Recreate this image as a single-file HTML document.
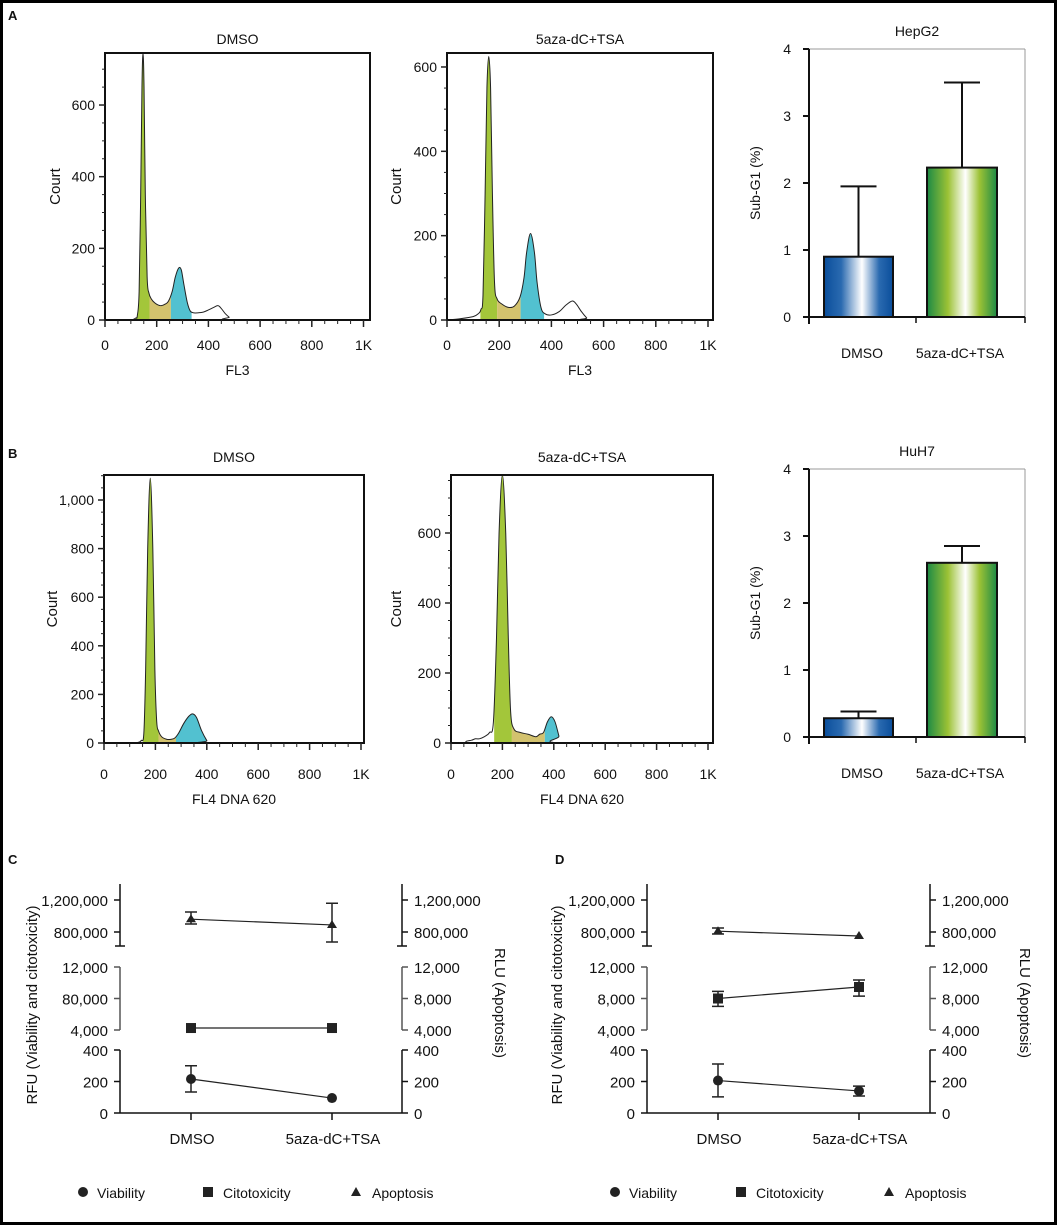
<!DOCTYPE html>
<html><head><meta charset="utf-8"><style>
html,body{margin:0;padding:0;background:#fff}
svg{display:block}
text{font-family:"Liberation Sans",Arial,sans-serif;fill:#111}
</style></head><body>
<svg id="fig" width="1057" height="1225" viewBox="0 0 1057 1225" xmlns="http://www.w3.org/2000/svg">
<defs>
<linearGradient id="gBlue" x1="0" x2="1" y1="0" y2="0">
<stop offset="0" stop-color="#0a4e9b"/><stop offset="0.25" stop-color="#2a6ab0"/><stop offset="0.55" stop-color="#ffffff"/><stop offset="0.8" stop-color="#2a6ab0"/><stop offset="1" stop-color="#0a4e9b"/></linearGradient>
<linearGradient id="gGreen" x1="0" x2="1" y1="0" y2="0">
<stop offset="0" stop-color="#1c8a45"/><stop offset="0.3" stop-color="#9cc235"/><stop offset="0.55" stop-color="#ffffff"/><stop offset="0.75" stop-color="#9cc235"/><stop offset="1" stop-color="#1c8a45"/></linearGradient>
</defs>
<rect x="1.5" y="1.5" width="1054" height="1222" fill="none" stroke="#000" stroke-width="3"/>
<text x="8" y="20" font-size="13" font-weight="bold">A</text>
<text x="8" y="458" font-size="13" font-weight="bold">B</text>
<text x="8" y="864" font-size="13" font-weight="bold">C</text>
<text x="555" y="864" font-size="13" font-weight="bold">D</text>
</svg>
<script>
// ---------- histogram data (FL value, count) ----------
const a1X=[0,100,110,120,125,132,138,143,147,151,156,163,170,180,192,205,218,232,245,260,272,285,295,305,318,330,345,360,380,400,420,437,450,465,480,495,1000];
const a1Y=[0,0,2,6,12,80,350,650,745,650,350,120,75,58,48,42,40,44,52,80,120,145,140,100,50,25,20,20,22,28,35,40,32,18,8,0,0];
const a2X=[0,50,100,120,130,138,146,153,160,167,174,182,192,210,235,258,280,295,305,320,335,345,360,375,400,430,455,480,495,515,535,545,1000];
const a2Y=[0,3,8,15,25,60,300,550,625,550,300,90,50,38,30,33,55,100,160,205,160,90,30,15,12,20,35,45,38,20,5,0,0];
const b1X=[0,100,130,145,155,162,170,180,190,198,205,212,225,245,260,275,290,310,330,345,360,380,400,410,1000];
const b1Y=[0,0,2,10,40,300,800,1090,800,300,90,50,25,15,15,20,40,80,110,120,105,50,10,0,0];
const b2X=[0,50,60,80,95,110,130,150,165,177,187,200,213,223,232,245,270,300,330,345,360,375,390,405,420,430,1000];
const b2Y=[0,0,5,8,12,12,18,30,60,300,600,775,600,300,90,40,30,25,18,25,30,60,75,60,20,0,0];
// phase gates [G1, S, G2]
const a1Gates=[[120,172],[172,255],[255,335]];
const a2Gates=[[128,192],[192,282],[282,372]];
const b1Gates=[[152,212],[212,280],[280,410]];
const b2Gates=[[168,237],[237,365],[365,432]];
// ---------- sub-G1 bar data ----------
const barCats=["DMSO","5aza-dC+TSA"];
const hepVals=[0.9,2.23];
const hepErr=[1.95,3.5];
const huhVals=[0.28,2.6];
const huhErr=[0.38,2.85];
const barTicks=[0,1,2,3,4];
// ---------- viability assay data ----------
const assayCats=["DMSO","5aza-dC+TSA"];
const cApopt=[960000,888000], cApoptLo=[900000,675000], cApoptHi=[1050000,1160000];
const cCito=[4250,4250], cCitoLo=[4250,4250], cCitoHi=[4250,4250];
const cViab=[216,95], cViabLo=[133,95], cViabHi=[300,95];
const dApopt=[810000,750000], dApoptLo=[775000,750000], dApoptHi=[850000,750000];
const dCito=[8000,9460], dCitoLo=[7000,8300], dCitoHi=[8900,10350];
const dViab=[206,140], dViabLo=[102,108], dViabHi=[311,171];
const topTicks=[800000,1200000], topLabels=["800,000","1,200,000"];
const midTicks=[4000,8000,12000];
const bottomTicks=[0,200,400];

const NS="http://www.w3.org/2000/svg";
const svg=document.getElementById('fig');
function mk(tag,attrs,parent){const e=document.createElementNS(NS,tag);for(const k in attrs)e.setAttribute(k,attrs[k]);(parent||svg).appendChild(e);return e;}
function txt(x,y,s,size,anchor,parent,rot){const t=mk('text',{x:x,y:y,'font-size':size,'text-anchor':anchor||'middle'},parent);if(rot)t.setAttribute('transform','rotate('+rot+' '+x+' '+y+')');t.textContent=s;return t;}
function smooth(pts){let d='M'+pts[0][0]+','+pts[0][1];for(let i=0;i<pts.length-1;i++){const p0=pts[Math.max(0,i-1)],p1=pts[i],p2=pts[i+1],p3=pts[Math.min(pts.length-1,i+2)];const c1x=p1[0]+(p2[0]-p0[0])/6,c1y=p1[1]+(p2[1]-p0[1])/6,c2x=p2[0]-(p3[0]-p1[0])/6,c2y=p2[1]-(p3[1]-p1[1])/6;d+=' C'+c1x+','+c1y+' '+c2x+','+c2y+' '+p2[0]+','+p2[1];}return d;}
let clipId=0;
function hist(o){
  const g=mk('g',{});
  
  
  const [L,T,R,B]=o.box;
  const X=v=>o.x0+v*o.xs, Y=v=>B-v*o.ys;
  const pts=o.xd.map((v,i)=>[X(v),Math.max(T,Y(o.yd[i]))]);
  const curve=smooth(pts);
  const cid='bx'+(clipId++);
  const cp=mk('clipPath',{id:cid},g);mk('rect',{x:L,y:T,width:R-L,height:B-T},cp);
  const cols=['#a3c63a','#d3c26e','#52c1d0'];
  const gn=['g1-fill','s-phase-fill','g2-fill'];
  o.gates.forEach((gt,i)=>{
    const id='gc'+(clipId++);
    const c=mk('clipPath',{id:id},g);mk('rect',{x:X(gt[0]),y:T,width:X(gt[1])-X(gt[0]),height:B-T},c);
    const gg=mk('g',{'clip-path':'url(#'+id+')'},g);
    const f=mk('path',{d:curve+' L'+pts[pts.length-1][0]+','+B+' L'+pts[0][0]+','+B+'Z',fill:cols[i]},gg);
    
    
  });
  const ln=mk('path',{d:curve,fill:'none',stroke:'#222','stroke-width':1,'clip-path':'url(#'+cid+')'},g);
  
  
  const bx=mk('rect',{x:L,y:T,width:R-L,height:B-T,fill:'none',stroke:'#111','stroke-width':2},g);
  
  
  for(let v=0;Y(v)>=T;v+=50){const maj=v%200===0;mk('line',{x1:L-(maj?6:3),x2:L,y1:Y(v),y2:Y(v),stroke:'#222','stroke-width':maj?1.5:1},g);
    if(maj){const t=txt(L-10,Y(v)+5,v>=1000?(v/1000)+','+String(v%1000).padStart(3,'0'):String(v),14,'end',g);}}
  for(let v=0;v<=1000;v+=50){const maj=v%200===0||v===1000;mk('line',{x1:X(v),x2:X(v),y1:B,y2:B+(maj?7:4),stroke:'#222','stroke-width':maj?1.5:1},g);
    if(maj){const t=txt(X(v),o.tickY,v===1000?'1K':String(v),14,'middle',g);}}
  const tt=txt((L+R)/2,o.titleY,o.title,14,'middle',g);
  const xl=txt((L+R)/2,o.xlabY,o.xlab,14,'middle',g);
  const yl=txt(o.ylabX,(T+B)/2,'Court',15,'middle',g,-90);
}
hist({name:'hist-a-dmso',box:[105,53,370,320],x0:105,xs:0.2585,ys:0.3583,xd:a1X,yd:a1Y,gates:a1Gates,title:'DMSO',titleY:44,xlab:'FL3',xlabY:375,tickY:350,ylabX:60});
hist({name:'hist-a-5aza',box:[447,53,713,320],x0:447,xs:0.261,ys:0.4217,xd:a2X,yd:a2Y,gates:a2Gates,title:'5aza-dC+TSA',titleY:44,xlab:'FL3',xlabY:375,tickY:350,ylabX:401});
hist({name:'hist-b-dmso',box:[104,475,364,743],x0:104,xs:0.257,ys:0.243,xd:b1X,yd:b1Y,gates:b1Gates,title:'DMSO',titleY:462,xlab:'FL4 DNA 620',xlabY:804,tickY:779,ylabX:57});
hist({name:'hist-b-5aza',box:[451,475,713,743],x0:451,xs:0.257,ys:0.35,xd:b2X,yd:b2Y,gates:b2Gates,title:'5aza-dC+TSA',titleY:462,xlab:'FL4 DNA 620',xlabY:804,tickY:779,ylabX:401});

function bars(o){
  const g=mk('g',{});
  
  
  const L=809,R=1025,T=o.base-268,B=o.base;
  const Y=v=>B-v*67;
  mk('line',{x1:L,y1:T,x2:R,y2:T,stroke:'#999','stroke-width':1},g);
  mk('line',{x1:R,y1:T,x2:R,y2:B,stroke:'#999','stroke-width':1},g);
  const bx=[[824,893],[927,997]], grads=['url(#gBlue)','url(#gGreen)'];
  o.vals.forEach((v,i)=>{
    const cx=(bx[i][0]+bx[i][1])/2;
    const e=mk('path',{d:'M'+cx+','+Y(v)+' V'+Y(o.err[i])+' M'+(cx-18)+','+Y(o.err[i])+' H'+(cx+18),stroke:'#111','stroke-width':2,fill:'none'},g);
    
    
    const r=mk('rect',{x:bx[i][0],y:Y(v),width:bx[i][1]-bx[i][0],height:B-Y(v),fill:grads[i],stroke:'#111','stroke-width':2},g);
    
    
    const t=txt((i===0?862:960),o.labY,barCats[i],14,'middle',g);
    
    
  });
  mk('line',{x1:L,y1:T,x2:L,y2:B+7,stroke:'#111','stroke-width':2},g);
  mk('line',{x1:L-6,y1:B,x2:R,y2:B,stroke:'#111','stroke-width':2},g);
  [916,1025].forEach(x=>mk('line',{x1:x,y1:B,x2:x,y2:B+6,stroke:'#111','stroke-width':1.5},g));
  barTicks.forEach(v=>{mk('line',{x1:L-6,x2:L,y1:Y(v),y2:Y(v),stroke:'#111','stroke-width':2},g);
    const t=txt(L-18,Y(v)+5,String(v),14,'end',g);});
  const tt=txt(917,T-13,o.title,14,'middle',g);
  const yl=txt(760,(T+B)/2,'Sub-G1 (%)',14,'middle',g,-90);
}
bars({name:'bar-hepg2',base:317,vals:hepVals,err:hepErr,title:'HepG2',labY:358});
bars({name:'bar-huh7',base:737,vals:huhVals,err:huhErr,title:'HuH7',labY:778});

function assay(o){
  const g=mk('g',{});
  
  
  const L=o.L,R=o.R;
  const yTop=v=>900+(1200000-v)/400000*32;
  const yMid=v=>967+(12000-v)/8000*63;
  const yBot=v=>1113-v/400*63;
  const cx=[L+71,L+212];
  const segs=[[884,946],[967,1030],[1050,1113]];
  [L,R].forEach((ax,k)=>{
    const dir=k===0?-1:1;
    segs.forEach((s,j)=>{mk('line',{x1:ax,x2:ax,y1:s[0],y2:s[1],stroke:j===1?'#555':'#111','stroke-width':1.5},g);});
    mk('line',{x1:ax-5,x2:ax+5,y1:946,y2:946,stroke:'#111','stroke-width':1.5},g);
    topTicks.forEach((v,i)=>{mk('line',{x1:ax,x2:ax+dir*6,y1:yTop(v),y2:yTop(v),stroke:'#111','stroke-width':1.5},g);
      const t=txt(ax+dir*12,yTop(v)+6,topLabels[i],15,k===0?'end':'start',g);});
    midTicks.forEach(v=>{mk('line',{x1:ax,x2:ax+dir*6,y1:yMid(v),y2:yMid(v),stroke:'#555','stroke-width':1.5},g);
      let s=v.toLocaleString('en-US');if(k===0&&v===8000&&o.odd)s='80,000';
      const t=txt(ax+dir*12,yMid(v)+6,s,15,k===0?'end':'start',g);});
    bottomTicks.forEach(v=>{mk('line',{x1:ax,x2:ax+dir*6,y1:yBot(v),y2:yBot(v),stroke:'#111','stroke-width':1.5},g);
      const t=txt(ax+dir*12,yBot(v)+6,String(v),15,k===0?'end':'start',g);});
  });
  mk('line',{x1:L,x2:R,y1:1113,y2:1113,stroke:'#111','stroke-width':1.5},g);
  cx.forEach((x,i)=>{mk('line',{x1:x,x2:x,y1:1113,y2:1120,stroke:'#111','stroke-width':1.5},g);
    const t=txt(x+1,1144,assayCats[i],15,'middle',g);});
  const series=[[o.apo,o.apoLo,o.apoHi,yTop,'tri','apoptosis'],[o.cit,o.citLo,o.citHi,yMid,'sq','citotoxicity'],[o.via,o.viaLo,o.viaHi,yBot,'dot','viability']];
  series.forEach(([v,lo,hi,Y,sh,nm])=>{
    const ln=mk('line',{x1:cx[0],y1:Y(v[0]),x2:cx[1],y2:Y(v[1]),stroke:'#222','stroke-width':1.2},g);
    
    
    v.forEach((val,i)=>{
      if(hi[i]!==lo[i]){const e=mk('path',{d:'M'+cx[i]+','+Y(hi[i])+' V'+Y(lo[i])+' M'+(cx[i]-6)+','+Y(hi[i])+' h12 M'+(cx[i]-6)+','+Y(lo[i])+' h12',stroke:'#222','stroke-width':1.5,fill:'none'},g);
        
        }
      const y=Y(val);let m;
      if(sh==='tri')m=mk('path',{d:'M'+cx[i]+','+(y-5)+' l5,8 h-10z',fill:'#222'},g);
      else if(sh==='sq')m=mk('rect',{x:cx[i]-5,y:y-5,width:10,height:10,fill:'#222'},g);
      else m=mk('circle',{cx:cx[i],cy:y,r:5,fill:'#222'},g);
      
      
    });
  });
  const yl=txt(o.ylX,1005,'RFU (Viability and citotoxicity)',15,'middle',g,-90);
  const yr=txt(o.yrX,1003,'RLU (Apoptosis)',15,'middle',g,90);
  const lg=mk('g',{},g);
  
  
  const lx=o.legX;
  mk('circle',{cx:lx[0],cy:1192,r:5,fill:'#222'},lg);
  txt(lx[0]+14,1198,'Viability',14,'start',lg);
  mk('rect',{x:lx[1]-5,y:1187,width:10,height:10,fill:'#222'},lg);
  txt(lx[1]+15,1198,'Citotoxicity',14,'start',lg);
  mk('path',{d:'M'+lx[2]+',1187 l5,9 h-10z',fill:'#222'},lg);
  txt(lx[2]+16,1198,'Apoptosis',14,'start',lg);
}
assay({name:'assay-c',L:120,R:402,apo:cApopt,apoLo:cApoptLo,apoHi:cApoptHi,cit:cCito,citLo:cCitoLo,citHi:cCitoHi,via:cViab,viaLo:cViabLo,viaHi:cViabHi,ylX:37,yrX:495,legX:[83,208,356],odd:true});
assay({name:'assay-d',L:647,R:930,apo:dApopt,apoLo:dApoptLo,apoHi:dApoptHi,cit:dCito,citLo:dCitoLo,citHi:dCitoHi,via:dViab,viaLo:dViabLo,viaHi:dViabHi,ylX:562,yrX:1020,legX:[615,741,889],odd:false});
</script>
</body></html>
